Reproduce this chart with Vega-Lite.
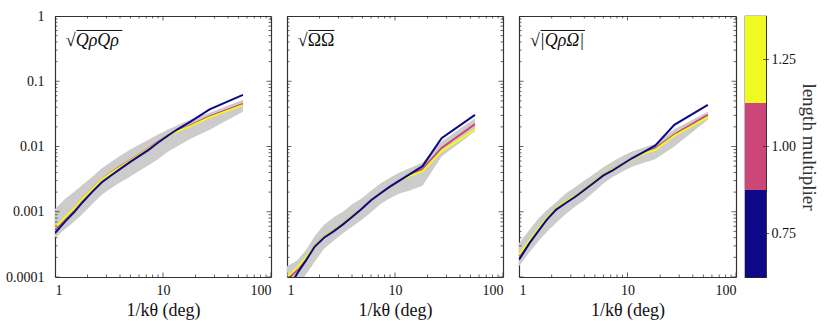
{
  "$schema": "https://vega.github.io/schema/vega-lite/v6.json",
  "background": "white",
  "padding": {"left": 5, "top": 9, "right": 4, "bottom": 2},
  "config": {
    "view": {"stroke": null},
    "font": "Liberation Serif",
    "axis": {
      "labelFont": "Liberation Serif", "labelFontSize": 14, "labelColor": "#111",
      "titleFont": "Liberation Serif", "titleFontSize": 18, "titleFontWeight": "normal", "titleColor": "#111",
      "domainColor": "#333", "domainWidth": 1.2, "ticks": false, "grid": false
    },
    "tick": {"color": "#222", "thickness": 1}
  },
  "datasets": {
    "xt": [
      {"v":1,"k":"major"},{"v":2,"k":"minor"},{"v":3,"k":"minor"},{"v":4,"k":"minor"},{"v":5,"k":"minor"},{"v":6,"k":"minor"},{"v":7,"k":"minor"},{"v":8,"k":"minor"},{"v":9,"k":"minor"},
      {"v":10,"k":"major"},{"v":20,"k":"minor"},{"v":30,"k":"minor"},{"v":40,"k":"minor"},{"v":50,"k":"minor"},{"v":60,"k":"minor"},{"v":70,"k":"minor"},{"v":80,"k":"minor"},{"v":90,"k":"minor"},{"v":100,"k":"major"}
    ],
    "yt": [
      {"v":0.0001,"k":"major"},{"v":0.0002,"k":"minor"},{"v":0.0003,"k":"minor"},{"v":0.0004,"k":"minor"},{"v":0.0005,"k":"minor"},{"v":0.0006,"k":"minor"},{"v":0.0007,"k":"minor"},{"v":0.0008,"k":"minor"},{"v":0.0009,"k":"minor"},
      {"v":0.001,"k":"major"},{"v":0.002,"k":"minor"},{"v":0.003,"k":"minor"},{"v":0.004,"k":"minor"},{"v":0.005,"k":"minor"},{"v":0.006,"k":"minor"},{"v":0.007,"k":"minor"},{"v":0.008,"k":"minor"},{"v":0.009,"k":"minor"},
      {"v":0.01,"k":"major"},{"v":0.02,"k":"minor"},{"v":0.03,"k":"minor"},{"v":0.04,"k":"minor"},{"v":0.05,"k":"minor"},{"v":0.06,"k":"minor"},{"v":0.07,"k":"minor"},{"v":0.08,"k":"minor"},{"v":0.09,"k":"minor"},
      {"v":0.1,"k":"major"},{"v":0.2,"k":"minor"},{"v":0.3,"k":"minor"},{"v":0.4,"k":"minor"},{"v":0.5,"k":"minor"},{"v":0.6,"k":"minor"},{"v":0.7,"k":"minor"},{"v":0.8,"k":"minor"},{"v":0.9,"k":"minor"},{"v":1,"k":"major"}
    ],
    "lines": [
      {"panel":1,"m":"1.00","x":1,"y":0.00053},{"panel":1,"m":"1.00","x":1.25,"y":0.0008},{"panel":1,"m":"1.00","x":1.5,"y":0.0011},{"panel":1,"m":"1.00","x":1.8,"y":0.0016},{"panel":1,"m":"1.00","x":2.2,"y":0.0022},{"panel":1,"m":"1.00","x":2.7,"y":0.0031},{"panel":1,"m":"1.00","x":3.3,"y":0.004},{"panel":1,"m":"1.00","x":4,"y":0.0049},{"panel":1,"m":"1.00","x":4.9,"y":0.0061},{"panel":1,"m":"1.00","x":6,"y":0.0075},{"panel":1,"m":"1.00","x":7.3,"y":0.0093},{"panel":1,"m":"1.00","x":8.9,"y":0.0117},{"panel":1,"m":"1.00","x":11,"y":0.0146},{"panel":1,"m":"1.00","x":13.5,"y":0.0174},{"panel":1,"m":"1.00","x":18,"y":0.021},{"panel":1,"m":"1.00","x":27,"y":0.029},{"panel":1,"m":"1.00","x":55,"y":0.045},
      {"panel":1,"m":"1.25","x":1,"y":0.00057},{"panel":1,"m":"1.25","x":1.25,"y":0.00083},{"panel":1,"m":"1.25","x":1.5,"y":0.00112},{"panel":1,"m":"1.25","x":1.8,"y":0.0016},{"panel":1,"m":"1.25","x":2.2,"y":0.0022},{"panel":1,"m":"1.25","x":2.7,"y":0.0031},{"panel":1,"m":"1.25","x":3.3,"y":0.0039},{"panel":1,"m":"1.25","x":4,"y":0.0048},{"panel":1,"m":"1.25","x":4.9,"y":0.006},{"panel":1,"m":"1.25","x":6,"y":0.0074},{"panel":1,"m":"1.25","x":7.3,"y":0.0091},{"panel":1,"m":"1.25","x":8.9,"y":0.0114},{"panel":1,"m":"1.25","x":11,"y":0.0143},{"panel":1,"m":"1.25","x":13.5,"y":0.017},{"panel":1,"m":"1.25","x":18,"y":0.0205},{"panel":1,"m":"1.25","x":27,"y":0.028},{"panel":1,"m":"1.25","x":55,"y":0.043},
      {"panel":1,"m":"0.75","x":1,"y":0.00047},{"panel":1,"m":"0.75","x":1.25,"y":0.00072},{"panel":1,"m":"0.75","x":1.5,"y":0.00098},{"panel":1,"m":"0.75","x":1.8,"y":0.0014},{"panel":1,"m":"0.75","x":2.2,"y":0.002},{"panel":1,"m":"0.75","x":2.7,"y":0.0028},{"panel":1,"m":"0.75","x":3.3,"y":0.0036},{"panel":1,"m":"0.75","x":4,"y":0.0045},{"panel":1,"m":"0.75","x":4.9,"y":0.0057},{"panel":1,"m":"0.75","x":6,"y":0.0071},{"panel":1,"m":"0.75","x":7.3,"y":0.0088},{"panel":1,"m":"0.75","x":8.9,"y":0.0113},{"panel":1,"m":"0.75","x":11,"y":0.0145},{"panel":1,"m":"0.75","x":13.5,"y":0.0182},{"panel":1,"m":"0.75","x":18,"y":0.024},{"panel":1,"m":"0.75","x":27,"y":0.037},{"panel":1,"m":"0.75","x":55,"y":0.062},

      {"panel":2,"m":"1.00","x":1,"y":0.00009},{"panel":2,"m":"1.00","x":1.25,"y":0.00013},{"panel":2,"m":"1.00","x":1.5,"y":0.00019},{"panel":2,"m":"1.00","x":1.8,"y":0.0003},{"panel":2,"m":"1.00","x":2.2,"y":0.00041},{"panel":2,"m":"1.00","x":2.7,"y":0.00052},{"panel":2,"m":"1.00","x":3.3,"y":0.00066},{"panel":2,"m":"1.00","x":4,"y":0.00085},{"panel":2,"m":"1.00","x":4.9,"y":0.0011},{"panel":2,"m":"1.00","x":6,"y":0.0015},{"panel":2,"m":"1.00","x":7.3,"y":0.0019},{"panel":2,"m":"1.00","x":8.9,"y":0.0024},{"panel":2,"m":"1.00","x":11,"y":0.003},{"panel":2,"m":"1.00","x":13.5,"y":0.0036},{"panel":2,"m":"1.00","x":18,"y":0.0045},{"panel":2,"m":"1.00","x":27,"y":0.0095},{"panel":2,"m":"1.00","x":55,"y":0.022},
      {"panel":2,"m":"1.25","x":1,"y":0.0001},{"panel":2,"m":"1.25","x":1.25,"y":0.00014},{"panel":2,"m":"1.25","x":1.5,"y":0.0002},{"panel":2,"m":"1.25","x":1.8,"y":0.0003},{"panel":2,"m":"1.25","x":2.2,"y":0.00041},{"panel":2,"m":"1.25","x":2.7,"y":0.00052},{"panel":2,"m":"1.25","x":3.3,"y":0.00066},{"panel":2,"m":"1.25","x":4,"y":0.00085},{"panel":2,"m":"1.25","x":4.9,"y":0.0011},{"panel":2,"m":"1.25","x":6,"y":0.0015},{"panel":2,"m":"1.25","x":7.3,"y":0.0019},{"panel":2,"m":"1.25","x":8.9,"y":0.0024},{"panel":2,"m":"1.25","x":11,"y":0.003},{"panel":2,"m":"1.25","x":13.5,"y":0.0035},{"panel":2,"m":"1.25","x":18,"y":0.0042},{"panel":2,"m":"1.25","x":27,"y":0.0085},{"panel":2,"m":"1.25","x":55,"y":0.018},
      {"panel":2,"m":"0.75","x":1,"y":0.00006},{"panel":2,"m":"0.75","x":1.25,"y":0.000115},{"panel":2,"m":"0.75","x":1.5,"y":0.00018},{"panel":2,"m":"0.75","x":1.8,"y":0.00029},{"panel":2,"m":"0.75","x":2.2,"y":0.0004},{"panel":2,"m":"0.75","x":2.7,"y":0.0005},{"panel":2,"m":"0.75","x":3.3,"y":0.00064},{"panel":2,"m":"0.75","x":4,"y":0.00083},{"panel":2,"m":"0.75","x":4.9,"y":0.0011},{"panel":2,"m":"0.75","x":6,"y":0.0015},{"panel":2,"m":"0.75","x":7.3,"y":0.0019},{"panel":2,"m":"0.75","x":8.9,"y":0.0024},{"panel":2,"m":"0.75","x":11,"y":0.003},{"panel":2,"m":"0.75","x":13.5,"y":0.0037},{"panel":2,"m":"0.75","x":18,"y":0.005},{"panel":2,"m":"0.75","x":27,"y":0.0134},{"panel":2,"m":"0.75","x":55,"y":0.0305},

      {"panel":3,"m":"1.00","x":1,"y":0.00021},{"panel":3,"m":"1.00","x":1.25,"y":0.00035},{"panel":3,"m":"1.00","x":1.5,"y":0.00053},{"panel":3,"m":"1.00","x":1.8,"y":0.00079},{"panel":3,"m":"1.00","x":2.2,"y":0.00112},{"panel":3,"m":"1.00","x":2.7,"y":0.00143},{"panel":3,"m":"1.00","x":3.3,"y":0.00173},{"panel":3,"m":"1.00","x":4,"y":0.0022},{"panel":3,"m":"1.00","x":4.9,"y":0.0029},{"panel":3,"m":"1.00","x":6,"y":0.0037},{"panel":3,"m":"1.00","x":7.3,"y":0.0045},{"panel":3,"m":"1.00","x":8.9,"y":0.0053},{"panel":3,"m":"1.00","x":11,"y":0.0065},{"panel":3,"m":"1.00","x":13.5,"y":0.0078},{"panel":3,"m":"1.00","x":18,"y":0.0093},{"panel":3,"m":"1.00","x":27,"y":0.0152},{"panel":3,"m":"1.00","x":55,"y":0.0305},
      {"panel":3,"m":"1.25","x":1,"y":0.00022},{"panel":3,"m":"1.25","x":1.25,"y":0.00036},{"panel":3,"m":"1.25","x":1.5,"y":0.00054},{"panel":3,"m":"1.25","x":1.8,"y":0.0008},{"panel":3,"m":"1.25","x":2.2,"y":0.00113},{"panel":3,"m":"1.25","x":2.7,"y":0.00145},{"panel":3,"m":"1.25","x":3.3,"y":0.00175},{"panel":3,"m":"1.25","x":4,"y":0.0022},{"panel":3,"m":"1.25","x":4.9,"y":0.0029},{"panel":3,"m":"1.25","x":6,"y":0.0037},{"panel":3,"m":"1.25","x":7.3,"y":0.0045},{"panel":3,"m":"1.25","x":8.9,"y":0.0053},{"panel":3,"m":"1.25","x":11,"y":0.0064},{"panel":3,"m":"1.25","x":13.5,"y":0.0076},{"panel":3,"m":"1.25","x":18,"y":0.0089},{"panel":3,"m":"1.25","x":27,"y":0.0146},{"panel":3,"m":"1.25","x":55,"y":0.0281},
      {"panel":3,"m":"0.75","x":1,"y":0.000184},{"panel":3,"m":"0.75","x":1.25,"y":0.00033},{"panel":3,"m":"0.75","x":1.5,"y":0.0005},{"panel":3,"m":"0.75","x":1.8,"y":0.00075},{"panel":3,"m":"0.75","x":2.2,"y":0.00108},{"panel":3,"m":"0.75","x":2.7,"y":0.00136},{"panel":3,"m":"0.75","x":3.3,"y":0.0017},{"panel":3,"m":"0.75","x":4,"y":0.00215},{"panel":3,"m":"0.75","x":4.9,"y":0.00278},{"panel":3,"m":"0.75","x":6,"y":0.0036},{"panel":3,"m":"0.75","x":7.3,"y":0.0043},{"panel":3,"m":"0.75","x":8.9,"y":0.0053},{"panel":3,"m":"0.75","x":11,"y":0.0066},{"panel":3,"m":"0.75","x":13.5,"y":0.0079},{"panel":3,"m":"0.75","x":18,"y":0.0103},{"panel":3,"m":"0.75","x":27,"y":0.0215},{"panel":3,"m":"0.75","x":55,"y":0.0434}
    ],
    "bands": [
      {"panel":1,"x":1,"lo":0.0004,"hi":0.0011},{"panel":1,"x":1.25,"lo":0.00055,"hi":0.0016},{"panel":1,"x":1.5,"lo":0.0007,"hi":0.002},{"panel":1,"x":1.8,"lo":0.00092,"hi":0.0026},{"panel":1,"x":2.2,"lo":0.0013,"hi":0.0034},{"panel":1,"x":2.7,"lo":0.0018,"hi":0.0046},{"panel":1,"x":3.3,"lo":0.0023,"hi":0.0058},{"panel":1,"x":4,"lo":0.0028,"hi":0.0072},{"panel":1,"x":4.9,"lo":0.0034,"hi":0.0088},{"panel":1,"x":6,"lo":0.0042,"hi":0.0106},{"panel":1,"x":7.3,"lo":0.0051,"hi":0.0127},{"panel":1,"x":8.9,"lo":0.0063,"hi":0.0152},{"panel":1,"x":11,"lo":0.0082,"hi":0.018},{"panel":1,"x":13.5,"lo":0.01,"hi":0.021},{"panel":1,"x":18,"lo":0.0132,"hi":0.026},{"panel":1,"x":27,"lo":0.018,"hi":0.033},{"panel":1,"x":55,"lo":0.034,"hi":0.052},
      {"panel":2,"x":1,"lo":0.00005,"hi":0.000146},{"panel":2,"x":1.25,"lo":0.00007,"hi":0.00018},{"panel":2,"x":1.5,"lo":0.00011,"hi":0.00026},{"panel":2,"x":1.8,"lo":0.00017,"hi":0.00042},{"panel":2,"x":2.2,"lo":0.00027,"hi":0.00063},{"panel":2,"x":2.7,"lo":0.00036,"hi":0.00082},{"panel":2,"x":3.3,"lo":0.00047,"hi":0.001},{"panel":2,"x":4,"lo":0.00059,"hi":0.0013},{"panel":2,"x":4.9,"lo":0.00075,"hi":0.0016},{"panel":2,"x":6,"lo":0.00098,"hi":0.0021},{"panel":2,"x":7.3,"lo":0.0013,"hi":0.0027},{"panel":2,"x":8.9,"lo":0.0016,"hi":0.0033},{"panel":2,"x":11,"lo":0.0019,"hi":0.004},{"panel":2,"x":13.5,"lo":0.0021,"hi":0.0046},{"panel":2,"x":18,"lo":0.0025,"hi":0.0057},{"panel":2,"x":27,"lo":0.007,"hi":0.0119},{"panel":2,"x":55,"lo":0.017,"hi":0.027},
      {"panel":3,"x":1,"lo":0.000146,"hi":0.00033},{"panel":3,"x":1.25,"lo":0.00024,"hi":0.00053},{"panel":3,"x":1.5,"lo":0.00035,"hi":0.00078},{"panel":3,"x":1.8,"lo":0.00049,"hi":0.00105},{"panel":3,"x":2.2,"lo":0.00068,"hi":0.0014},{"panel":3,"x":2.7,"lo":0.00092,"hi":0.0019},{"panel":3,"x":3.3,"lo":0.0012,"hi":0.0024},{"panel":3,"x":4,"lo":0.0015,"hi":0.003},{"panel":3,"x":4.9,"lo":0.002,"hi":0.0038},{"panel":3,"x":6,"lo":0.0027,"hi":0.0048},{"panel":3,"x":7.3,"lo":0.0034,"hi":0.0059},{"panel":3,"x":8.9,"lo":0.0041,"hi":0.0071},{"panel":3,"x":11,"lo":0.0049,"hi":0.0084},{"panel":3,"x":13.5,"lo":0.0055,"hi":0.0094},{"panel":3,"x":18,"lo":0.0064,"hi":0.011},{"panel":3,"x":27,"lo":0.01,"hi":0.0184},{"panel":3,"x":55,"lo":0.0256,"hi":0.034}
    ],
    "bar": [
      {"m":"0.75","lo":0.625,"hi":0.875,"mid":0.75},
      {"m":"1.00","lo":0.875,"hi":1.125,"mid":1.0},
      {"m":"1.25","lo":1.125,"hi":1.375,"mid":1.25}
    ]
  },
  "spacing": 8,
  "hconcat": [
    {
      "spacing": 16,
      "hconcat": [
        {
          "width": 216, "height": 261,
          "layer": [
            {
              "data": {"name": "bands"}, "transform": [{"filter": "datum.panel == 1"}],
              "mark": {"type": "area", "color": "#cccccc", "clip": true},
              "encoding": {
                "x": {"field": "x", "type": "quantitative", "scale": {"type": "log", "domain": [1, 100], "nice": false},
                      "axis": {"orient": "bottom", "title": "1/kθ (deg)", "values": [1, 10, 100], "format": "~g", "labelPadding": 6, "titlePadding": 4}},
                "y": {"field": "lo", "type": "quantitative", "scale": {"type": "log", "domain": [0.0001, 1], "nice": false},
                      "axis": {"orient": "left", "title": null, "values": [0.0001, 0.001, 0.01, 0.1, 1], "format": "~g", "labelPadding": 11}},
                "y2": {"field": "hi"}
              }
            },
            {
              "data": {"name": "lines"}, "transform": [{"filter": "datum.panel == 1"}],
              "mark": {"type": "line", "strokeWidth": 2, "clip": true},
              "encoding": {
                "x": {"field": "x", "type": "quantitative", "scale": {"type": "log", "domain": [1, 100], "nice": false},
                      "axis": {"orient": "top", "title": null, "labels": false, "values": [1, 10, 100]}},
                "y": {"field": "y", "type": "quantitative", "scale": {"type": "log", "domain": [0.0001, 1], "nice": false},
                      "axis": {"orient": "right", "title": null, "labels": false, "values": [0.0001, 0.001, 0.01, 0.1, 1]}},
                "color": {"field": "m", "type": "nominal", "scale": {"domain": ["0.75", "1.00", "1.25"], "range": ["#0d0887", "#cc4778", "#f0f921"]}, "legend": null}
              }
            },
            {
              "data": {"values": [{"label": "√QρQρ"}]},
              "mark": {"type": "text", "align": "left", "baseline": "middle", "fontSize": 18, "fontStyle": "italic", "color": "#111", "font": "Liberation Serif"},
              "encoding": {
                "x": {"datum": 1.26, "type": "quantitative", "axis": null},
                "y": {"datum": 0.42, "type": "quantitative", "axis": null},
                "text": {"field": "label"}
              }
            },
            {
              "data": {"values": [{"label": "√QρQρ"}]},
              "mark": {"type": "rule", "color": "#111", "strokeWidth": 1},
              "encoding": {
                "x": {"datum": 1.58, "type": "quantitative", "axis": null},
                "x2": {"datum": 4.2},
                "y": {"datum": 0.6, "type": "quantitative", "axis": null}
              }
            },
            {
              "data": {"name": "yt"}, "mark": {"type": "tick", "orient": "horizontal", "clip": true},
              "encoding": {"x": {"datum": 1, "type": "quantitative", "axis": null}, "y": {"field": "v", "type": "quantitative", "axis": null},
                           "size": {"field": "k", "type": "ordinal", "scale": {"domain": ["major", "minor"], "range": [9, 5]}, "legend": null}}
            },
            {
              "data": {"name": "yt"}, "mark": {"type": "tick", "orient": "horizontal", "clip": true},
              "encoding": {"x": {"datum": 100, "type": "quantitative", "axis": null}, "y": {"field": "v", "type": "quantitative", "axis": null},
                           "size": {"field": "k", "type": "ordinal", "scale": {"domain": ["major", "minor"], "range": [9, 5]}, "legend": null}}
            },
            {
              "data": {"name": "xt"}, "mark": {"type": "tick", "orient": "vertical", "clip": true},
              "encoding": {"x": {"field": "v", "type": "quantitative", "axis": null}, "y": {"datum": 0.0001, "type": "quantitative", "axis": null},
                           "size": {"field": "k", "type": "ordinal", "scale": {"domain": ["major", "minor"], "range": [9, 5]}, "legend": null}}
            },
            {
              "data": {"name": "xt"}, "mark": {"type": "tick", "orient": "vertical", "clip": true},
              "encoding": {"x": {"field": "v", "type": "quantitative", "axis": null}, "y": {"datum": 1, "type": "quantitative", "axis": null},
                           "size": {"field": "k", "type": "ordinal", "scale": {"domain": ["major", "minor"], "range": [9, 5]}, "legend": null}}
            }
          ],
          "resolve": {"axis": {"x": "independent", "y": "independent"}}
        },
        {
          "width": 216, "height": 261,
          "layer": [
            {
              "data": {"name": "bands"}, "transform": [{"filter": "datum.panel == 2"}],
              "mark": {"type": "area", "color": "#cccccc", "clip": true},
              "encoding": {
                "x": {"field": "x", "type": "quantitative", "scale": {"type": "log", "domain": [1, 100], "nice": false},
                      "axis": {"orient": "bottom", "title": "1/kθ (deg)", "values": [1, 10, 100], "format": "~g", "labelPadding": 6, "titlePadding": 4}},
                "y": {"field": "lo", "type": "quantitative", "scale": {"type": "log", "domain": [0.0001, 1], "nice": false},
                      "axis": {"orient": "left", "title": null, "labels": false, "values": [0.0001, 0.001, 0.01, 0.1, 1]}},
                "y2": {"field": "hi"}
              }
            },
            {
              "data": {"name": "lines"}, "transform": [{"filter": "datum.panel == 2"}],
              "mark": {"type": "line", "strokeWidth": 2, "clip": true},
              "encoding": {
                "x": {"field": "x", "type": "quantitative", "scale": {"type": "log", "domain": [1, 100], "nice": false},
                      "axis": {"orient": "top", "title": null, "labels": false, "values": [1, 10, 100]}},
                "y": {"field": "y", "type": "quantitative", "scale": {"type": "log", "domain": [0.0001, 1], "nice": false},
                      "axis": {"orient": "right", "title": null, "labels": false, "values": [0.0001, 0.001, 0.01, 0.1, 1]}},
                "color": {"field": "m", "type": "nominal", "scale": {"domain": ["0.75", "1.00", "1.25"], "range": ["#0d0887", "#cc4778", "#f0f921"]}, "legend": null}
              }
            },
            {
              "data": {"values": [{"label": "√ΩΩ"}]},
              "mark": {"type": "text", "align": "left", "baseline": "middle", "fontSize": 18, "color": "#111", "font": "Liberation Serif"},
              "encoding": {
                "x": {"datum": 1.26, "type": "quantitative", "axis": null},
                "y": {"datum": 0.42, "type": "quantitative", "axis": null},
                "text": {"field": "label"}
              }
            },
            {
              "data": {"values": [{"label": "√ΩΩ"}]},
              "mark": {"type": "rule", "color": "#111", "strokeWidth": 1},
              "encoding": {
                "x": {"datum": 1.58, "type": "quantitative", "axis": null},
                "x2": {"datum": 2.75},
                "y": {"datum": 0.6, "type": "quantitative", "axis": null}
              }
            },
            {
              "data": {"name": "yt"}, "mark": {"type": "tick", "orient": "horizontal", "clip": true},
              "encoding": {"x": {"datum": 1, "type": "quantitative", "axis": null}, "y": {"field": "v", "type": "quantitative", "axis": null},
                           "size": {"field": "k", "type": "ordinal", "scale": {"domain": ["major", "minor"], "range": [9, 5]}, "legend": null}}
            },
            {
              "data": {"name": "yt"}, "mark": {"type": "tick", "orient": "horizontal", "clip": true},
              "encoding": {"x": {"datum": 100, "type": "quantitative", "axis": null}, "y": {"field": "v", "type": "quantitative", "axis": null},
                           "size": {"field": "k", "type": "ordinal", "scale": {"domain": ["major", "minor"], "range": [9, 5]}, "legend": null}}
            },
            {
              "data": {"name": "xt"}, "mark": {"type": "tick", "orient": "vertical", "clip": true},
              "encoding": {"x": {"field": "v", "type": "quantitative", "axis": null}, "y": {"datum": 0.0001, "type": "quantitative", "axis": null},
                           "size": {"field": "k", "type": "ordinal", "scale": {"domain": ["major", "minor"], "range": [9, 5]}, "legend": null}}
            },
            {
              "data": {"name": "xt"}, "mark": {"type": "tick", "orient": "vertical", "clip": true},
              "encoding": {"x": {"field": "v", "type": "quantitative", "axis": null}, "y": {"datum": 1, "type": "quantitative", "axis": null},
                           "size": {"field": "k", "type": "ordinal", "scale": {"domain": ["major", "minor"], "range": [9, 5]}, "legend": null}}
            }
          ],
          "resolve": {"axis": {"x": "independent", "y": "independent"}}
        },
        {
          "width": 217, "height": 261,
          "layer": [
            {
              "data": {"name": "bands"}, "transform": [{"filter": "datum.panel == 3"}],
              "mark": {"type": "area", "color": "#cccccc", "clip": true},
              "encoding": {
                "x": {"field": "x", "type": "quantitative", "scale": {"type": "log", "domain": [1, 100], "nice": false},
                      "axis": {"orient": "bottom", "title": "1/kθ (deg)", "values": [1, 10, 100], "format": "~g", "labelPadding": 6, "titlePadding": 4}},
                "y": {"field": "lo", "type": "quantitative", "scale": {"type": "log", "domain": [0.0001, 1], "nice": false},
                      "axis": {"orient": "left", "title": null, "labels": false, "values": [0.0001, 0.001, 0.01, 0.1, 1]}},
                "y2": {"field": "hi"}
              }
            },
            {
              "data": {"name": "lines"}, "transform": [{"filter": "datum.panel == 3"}],
              "mark": {"type": "line", "strokeWidth": 2, "clip": true},
              "encoding": {
                "x": {"field": "x", "type": "quantitative", "scale": {"type": "log", "domain": [1, 100], "nice": false},
                      "axis": {"orient": "top", "title": null, "labels": false, "values": [1, 10, 100]}},
                "y": {"field": "y", "type": "quantitative", "scale": {"type": "log", "domain": [0.0001, 1], "nice": false},
                      "axis": {"orient": "right", "title": null, "labels": false, "values": [0.0001, 0.001, 0.01, 0.1, 1]}},
                "color": {"field": "m", "type": "nominal", "scale": {"domain": ["0.75", "1.00", "1.25"], "range": ["#0d0887", "#cc4778", "#f0f921"]}, "legend": null}
              }
            },
            {
              "data": {"values": [{"label": "√|QρΩ|"}]},
              "mark": {"type": "text", "align": "left", "baseline": "middle", "fontSize": 18, "fontStyle": "italic", "color": "#111", "font": "Liberation Serif"},
              "encoding": {
                "x": {"datum": 1.26, "type": "quantitative", "axis": null},
                "y": {"datum": 0.42, "type": "quantitative", "axis": null},
                "text": {"field": "label"}
              }
            },
            {
              "data": {"values": [{"label": "√|QρΩ|"}]},
              "mark": {"type": "rule", "color": "#111", "strokeWidth": 1},
              "encoding": {
                "x": {"datum": 1.58, "type": "quantitative", "axis": null},
                "x2": {"datum": 4.05},
                "y": {"datum": 0.6, "type": "quantitative", "axis": null}
              }
            },
            {
              "data": {"name": "yt"}, "mark": {"type": "tick", "orient": "horizontal", "clip": true},
              "encoding": {"x": {"datum": 1, "type": "quantitative", "axis": null}, "y": {"field": "v", "type": "quantitative", "axis": null},
                           "size": {"field": "k", "type": "ordinal", "scale": {"domain": ["major", "minor"], "range": [9, 5]}, "legend": null}}
            },
            {
              "data": {"name": "yt"}, "mark": {"type": "tick", "orient": "horizontal", "clip": true},
              "encoding": {"x": {"datum": 100, "type": "quantitative", "axis": null}, "y": {"field": "v", "type": "quantitative", "axis": null},
                           "size": {"field": "k", "type": "ordinal", "scale": {"domain": ["major", "minor"], "range": [9, 5]}, "legend": null}}
            },
            {
              "data": {"name": "xt"}, "mark": {"type": "tick", "orient": "vertical", "clip": true},
              "encoding": {"x": {"field": "v", "type": "quantitative", "axis": null}, "y": {"datum": 0.0001, "type": "quantitative", "axis": null},
                           "size": {"field": "k", "type": "ordinal", "scale": {"domain": ["major", "minor"], "range": [9, 5]}, "legend": null}}
            },
            {
              "data": {"name": "xt"}, "mark": {"type": "tick", "orient": "vertical", "clip": true},
              "encoding": {"x": {"field": "v", "type": "quantitative", "axis": null}, "y": {"datum": 1, "type": "quantitative", "axis": null},
                           "size": {"field": "k", "type": "ordinal", "scale": {"domain": ["major", "minor"], "range": [9, 5]}, "legend": null}}
            }
          ],
          "resolve": {"axis": {"x": "independent", "y": "independent"}}
        }
      ]
    },
    {
      "width": 21, "height": 261,
      "view": {"stroke": "#222", "strokeWidth": 1.2},
      "data": {"name": "bar"},
      "layer": [
        {
          "mark": {"type": "rect"},
          "encoding": {
            "y": {"field": "lo", "type": "quantitative", "scale": {"domain": [0.625, 1.375], "nice": false, "zero": false},
                  "axis": {"orient": "right", "title": "length multiplier", "values": [0.75, 1, 1.25], "format": ".2f", "domain": false, "labelPadding": 5, "titlePadding": 3, "titleFontSize": 19, "titleColor": "#333"}},
            "y2": {"field": "hi"},
            "color": {"field": "m", "type": "nominal", "scale": {"domain": ["0.75", "1.00", "1.25"], "range": ["#0d0887", "#cc4778", "#f0f921"]}, "legend": null}
          }
        },
        {
          "mark": {"type": "tick", "orient": "horizontal", "size": 6},
          "encoding": {
            "x": {"datum": 1, "type": "quantitative", "scale": {"domain": [0, 1]}, "axis": null},
            "y": {"field": "mid", "type": "quantitative"}
          }
        }
      ]
    }
  ]
}
